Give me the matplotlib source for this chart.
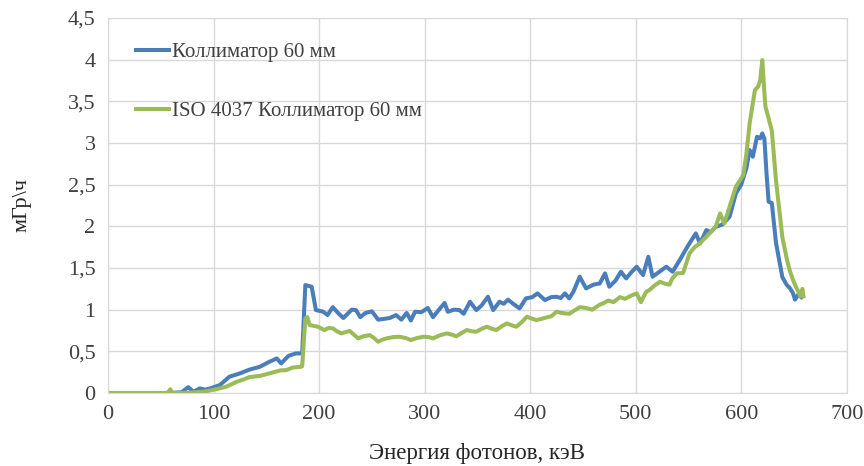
import matplotlib.pyplot as plt
from matplotlib.ticker import FuncFormatter, MultipleLocator

# Коллиматор 60 мм
energy_1 = [0, 60, 70, 76, 81, 87, 92, 97, 106, 115, 125, 134, 144, 153, 160, 164, 171, 178, 184,
            187, 193, 197, 204, 208, 213, 218, 223, 227, 231, 235, 239, 244, 250, 256, 262, 267,
            273, 278, 283, 287, 291, 297, 303, 308, 313, 319, 322, 328, 333, 337, 343, 349, 354,
            360, 365, 371, 375, 379, 385, 390, 396, 402, 407, 414, 420, 425, 429, 433, 437, 441,
            447, 453, 460, 466, 471, 475, 481, 486, 491, 496, 501, 507, 512, 516, 522, 529, 535,
            542, 549, 557, 561, 567, 571, 576, 582, 589, 595, 600, 605, 608, 611, 615, 618, 620,
            622, 624, 626, 629, 633, 639, 643, 646, 649, 651, 654, 657]
dose_1 = [0, 0, 0.01, 0.07, 0.015, 0.055, 0.04, 0.055, 0.095, 0.195, 0.235, 0.28, 0.315, 0.375,
          0.415, 0.355, 0.445, 0.475, 0.475, 1.295, 1.275, 0.995, 0.975, 0.935, 1.03, 0.96, 0.90,
          0.95, 1.0, 0.995, 0.91, 0.96, 0.98, 0.88, 0.89, 0.90, 0.935, 0.88, 0.96, 0.87, 0.975,
          0.97, 1.02, 0.91, 0.99, 1.08, 0.975, 1.0, 0.995, 0.95, 1.095, 0.995, 1.05, 1.155, 0.995,
          1.095, 1.07, 1.12, 1.06, 1.015, 1.135, 1.15, 1.195, 1.115, 1.15, 1.155, 1.14, 1.195,
          1.135, 1.215, 1.395, 1.255, 1.30, 1.315, 1.435, 1.275, 1.35, 1.455, 1.375, 1.45, 1.515,
          1.415, 1.635, 1.395, 1.45, 1.515, 1.455, 1.60, 1.755, 1.915, 1.795, 1.955, 1.93, 1.995,
          2.02, 2.115, 2.395, 2.5, 2.7, 2.915, 2.835, 3.075, 3.055, 3.115, 3.05, 2.635, 2.295,
          2.28, 1.80, 1.39, 1.30, 1.26, 1.20, 1.12, 1.18, 1.15]

# ISO 4037 Коллиматор 60 мм
energy_2 = [0, 55, 57, 59, 61, 70, 80, 90, 97, 104, 112, 122, 128, 134, 144, 153, 163, 169, 175,
            183, 184, 187, 189, 191, 199, 205, 209, 213, 217, 221, 225, 229, 233, 237, 242, 248,
            252, 256, 260, 264, 270, 276, 282, 287, 293, 299, 304, 308, 314, 321, 326, 330, 335,
            340, 345, 349, 354, 359, 364, 368, 373, 378, 383, 387, 392, 397, 402, 406, 411, 415,
            420, 425, 430, 437, 442, 447, 453, 459, 466, 470, 474, 479, 485, 490, 496, 501, 505,
            510, 513, 518, 523, 528, 532, 535, 539, 545, 551, 556, 561, 567, 571, 576, 580, 584,
            591, 595, 602, 605, 608, 613, 616, 618, 620, 622, 623, 626, 629, 633, 639, 643, 646,
            649, 652, 654, 656, 658, 659]
dose_2 = [0, 0, 0.005, 0.045, 0.0, 0, 0.005, 0.015, 0.03, 0.05, 0.075, 0.135, 0.16, 0.19, 0.205,
          0.235, 0.27, 0.275, 0.305, 0.315, 0.32, 0.895, 0.91, 0.815, 0.795, 0.755, 0.78, 0.775,
          0.74, 0.715, 0.73, 0.745, 0.70, 0.655, 0.68, 0.695, 0.66, 0.615, 0.64, 0.655, 0.67,
          0.675, 0.66, 0.635, 0.66, 0.675, 0.67, 0.655, 0.69, 0.715, 0.70, 0.68, 0.72, 0.755,
          0.74, 0.735, 0.77, 0.795, 0.77, 0.755, 0.80, 0.835, 0.81, 0.795, 0.85, 0.915, 0.89,
          0.875, 0.89, 0.905, 0.92, 0.975, 0.96, 0.95, 0.99, 1.03, 1.02, 1.0, 1.06, 1.08, 1.11,
          1.09, 1.15, 1.13, 1.17, 1.195, 1.09, 1.215, 1.235, 1.29, 1.335, 1.31, 1.30, 1.38, 1.435,
          1.44, 1.675, 1.75, 1.80, 1.875, 1.93, 2.0, 2.155, 2.035, 2.315, 2.475, 2.615, 2.875,
          3.235, 3.635, 3.675, 3.75, 3.995, 3.60, 3.435, 3.295, 3.15, 2.55, 1.87, 1.62, 1.47,
          1.36, 1.27, 1.22, 1.16, 1.25, 1.16]

plt.rcParams['font.family'] = ['Liberation Serif', 'DejaVu Serif']

fig = plt.figure(figsize=(8.64, 4.66), dpi=100)
ax = fig.add_axes([0.125, 0.1567, 0.855, 0.8047])

ax.plot(energy_1, dose_1, color='#4a7ebb', lw=2.9, solid_joinstyle='round', label='Коллиматор 60 мм')
ax.plot(energy_2, dose_2, color='#9bbb59', lw=2.9, solid_joinstyle='round', label='ISO 4037 Коллиматор 60 мм')

ax.set_xlim(0, 700)
ax.set_ylim(0, 4.5)
ax.xaxis.set_major_locator(MultipleLocator(100))
ax.yaxis.set_major_locator(MultipleLocator(0.5))
ax.yaxis.set_major_formatter(FuncFormatter(lambda v, p: f'{v:g}'.replace('.', ',')))
ax.grid(True, color='#d9d9d9', lw=1)
ax.set_axisbelow(True)
for s in ax.spines.values():
    s.set_color('#d9d9d9')
ax.tick_params(length=0, labelsize=16, colors='#404040', pad=9)

ax.set_xlabel('Энергия фотонов, кэВ', fontsize=16.5, color='#262626', labelpad=13)
ax.set_ylabel('мГр\\ч', fontsize=16, color='#262626', labelpad=26)

ax.legend(loc='upper left', bbox_to_anchor=(0.012, 0.985), frameon=False, fontsize=15,
          handlelength=1.6, handletextpad=0.15, labelspacing=1.9, labelcolor='#404040')

plt.savefig('out.png', dpi=100)
